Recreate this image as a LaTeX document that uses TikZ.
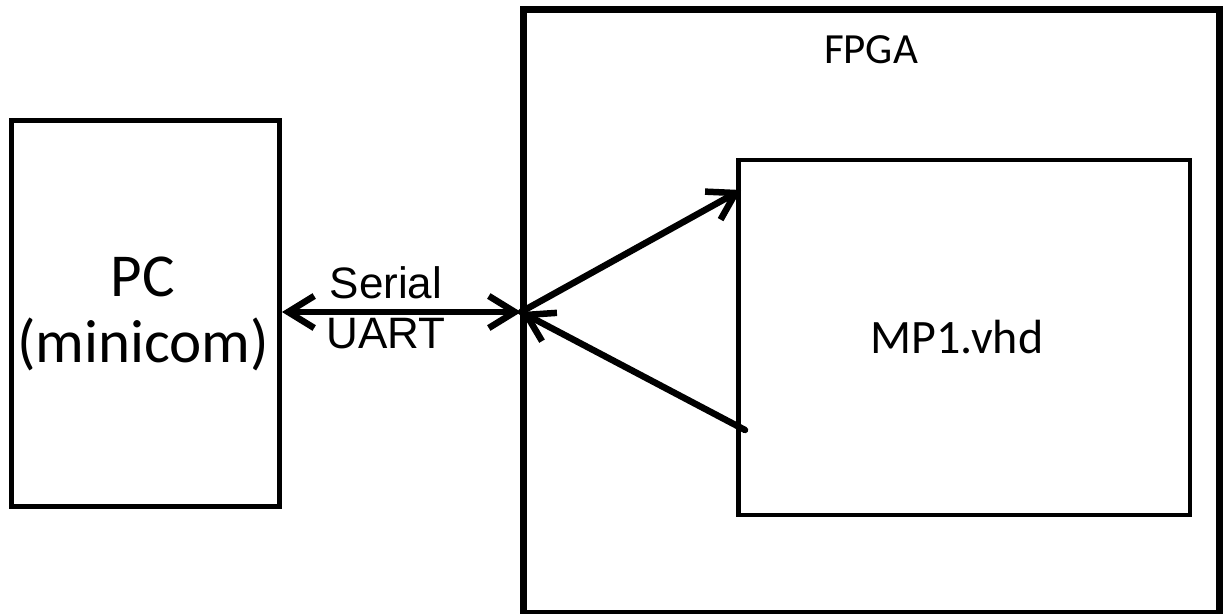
\documentclass[tikz,border=0pt]{standalone}
\usepackage{fontspec}
\setmainfont{Carlito}
\newfontfamily\arialfont{Liberation Sans}
\usetikzlibrary{arrows.meta}
\tikzset{
  tip/.tip={Straight Barb[length=26pt,width=32pt,line width=6.5pt]},
  box/.style={draw=black, line width=5pt, line join=miter},
  conn/.style={line width=6.5pt, line cap=round, {tip}-{tip}},
  oneway/.style={line width=6.5pt, line cap=round, -{tip}},
  lbl/.style={inner sep=0pt, text=black}
}
\begin{document}
\begin{tikzpicture}[x=1pt,y=-1pt]
\useasboundingbox (0,0) rectangle (1223,613);
\fill[white] (0,0) rectangle (1223,613);
% boxes
\draw[box, line width=7pt] (523,9) rectangle (1219,613);
\draw[box] (11,120) rectangle (279,506);
\draw[box, line width=4.5pt] (738.5,160) rectangle (1190,515);
% named anchor points
\coordinate (pcR) at (282,312);
\coordinate (fpL) at (521,312);
\coordinate (mpIn) at (741,190);
\coordinate (mpOut) at (745,430);
% texts
\node[lbl, font=\fontsize{61}{66}\selectfont, align=center] (pc) at (143,314) {PC\\(minicom)};
\node[lbl, font=\fontsize{43}{46}\selectfont] (fpga) at (871,50) {FPGA};
\node[lbl, font=\fontsize{48}{52}\selectfont] (mp) at (957,337) {MP1.vhd};
\node[lbl, font=\arialfont\fontsize{44}{48}\selectfont] (ser) at (386,283) {Serial};
\node[lbl, font=\arialfont\fontsize{44}{48}\selectfont] (uart) at (386,334) {UART};
% connectors
\draw[conn] (pcR) -- (fpL);
\draw[oneway] (fpL) -- (mpIn);
\draw[oneway] (mpOut) -- (fpL);
\end{tikzpicture}
\end{document}
